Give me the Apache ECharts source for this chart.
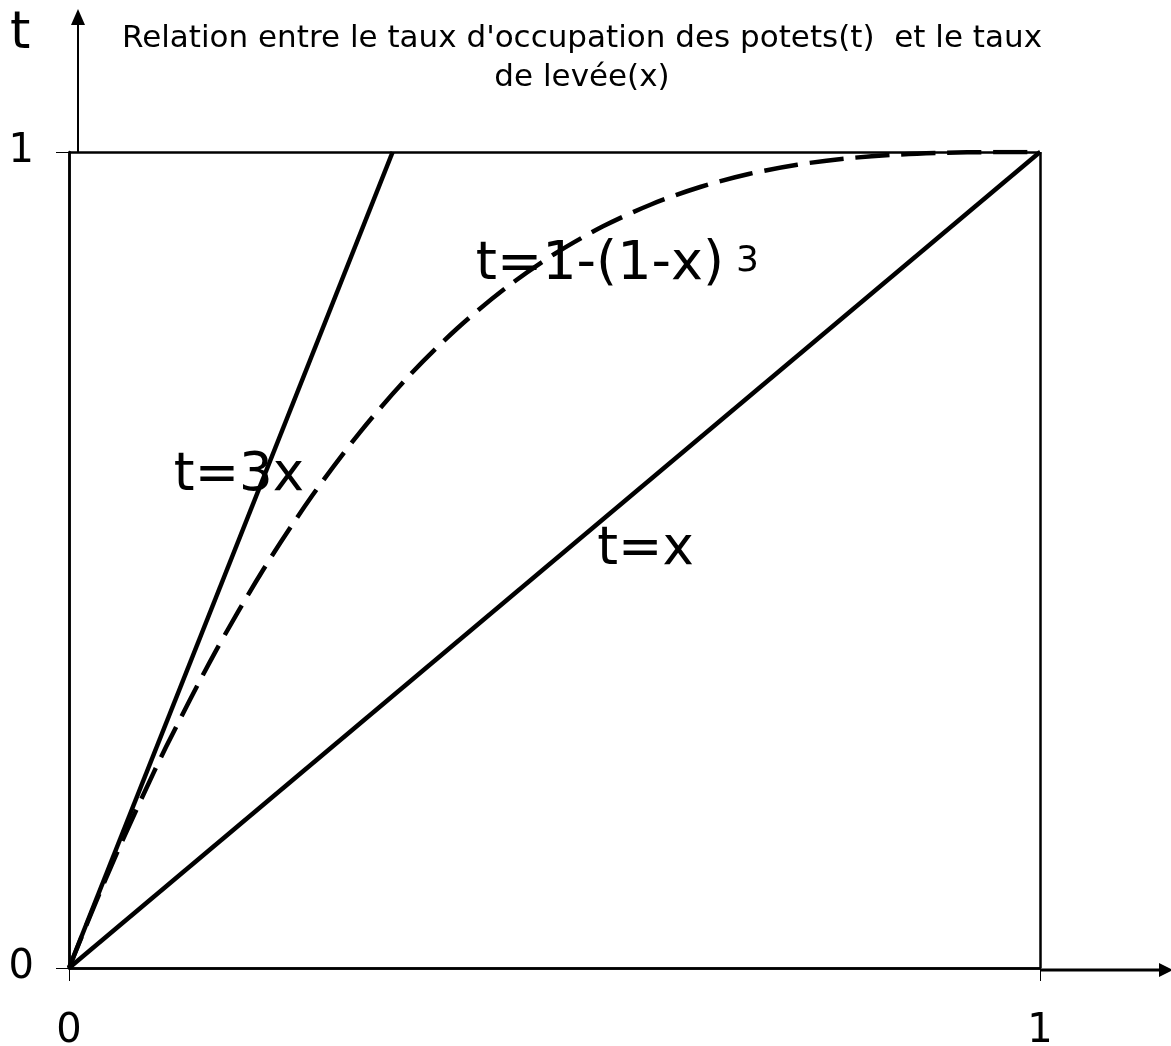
<!DOCTYPE html>
<html>
<head>
<meta charset="utf-8">
<script src="https://cdn.jsdelivr.net/npm/echarts@6/dist/echarts.min.js"></script>
<style>
  html, body { margin: 0; padding: 0; background: #fff; }
  #chart { width: 1171px; height: 1046px; }
</style>
</head>
<body>
<div id="chart"></div>
<script>
// Axis ticks (x = taux de levée, t = taux d'occupation)
const xTicks = [0, 1];
const tTicks = [0, 1];

// t = x
const lineX = [0, 1];
const lineT = [0, 1];

// t = 3x (reaches t = 1 at x = 1/3)
const steepX = [0, 0.3333];
const steepT = [0, 1];

// t = 1 - (1 - x)^3
const curveX = [0, 0.025, 0.05, 0.075, 0.1, 0.15, 0.2, 0.25, 0.3, 0.35, 0.4, 0.45, 0.5,
                0.55, 0.6, 0.65, 0.7, 0.75, 0.8, 0.85, 0.9, 0.95, 1];
const curveT = [0, 0.0731, 0.1426, 0.2084, 0.271, 0.3859, 0.488, 0.5781, 0.657, 0.7254, 0.784, 0.8336, 0.875,
                0.9089, 0.936, 0.9571, 0.973, 0.9844, 0.992, 0.9966, 0.999, 0.9999, 1];

const titleText = "Relation entre le taux d'occupation des potets(t)  et le taux\nde levée(x)";

const pairs = (xs, ys) => xs.map((x, i) => [x, ys[i]]);

const FONT = 'DejaVu Sans';
const chart = echarts.init(document.getElementById('chart'), null, { renderer: 'canvas' });

const option = {
  backgroundColor: '#ffffff',
  animation: false,
  title: {
    text: titleText,
    left: 577,
    top: 14,
    textAlign: 'center',
    textStyle: {
      fontFamily: FONT,
      fontWeight: 'normal',
      fontSize: 31,
      lineHeight: 39,
      color: '#000'
    }
  },
  grid: { left: 69, right: 131, top: 152, bottom: 78, containLabel: false, outerBoundsMode: 'none' },
  xAxis: {
    type: 'value', min: xTicks[0], max: xTicks[1], interval: 1,
    axisLine: { show: true, lineStyle: { color: '#000', width: 2.5 } },
    axisTick: { show: true, length: 13, lineStyle: { color: '#000', width: 1 } },
    axisLabel: { margin: 44, fontFamily: FONT, fontSize: 40, color: '#000' },
    splitLine: { show: true, lineStyle: { color: '#000', width: 2.5 } }
  },
  yAxis: {
    type: 'value', min: tTicks[0], max: tTicks[1], interval: 1,
    axisLine: { show: true, lineStyle: { color: '#000', width: 2.5 } },
    axisTick: { show: true, length: 13, lineStyle: { color: '#000', width: 1 } },
    axisLabel: { margin: 35, fontFamily: FONT, fontSize: 40, color: '#000', padding: [8, 0, 0, 0] },
    splitLine: { show: true, lineStyle: { color: '#000', width: 2.5 } }
  },
  series: [
    {
      name: 't=x', type: 'line', data: pairs(lineX, lineT), symbol: 'none',
      lineStyle: { color: '#000', width: 4.5 }, z: 3
    },
    {
      name: 't=3x', type: 'line', data: pairs(steepX, steepT), symbol: 'none',
      lineStyle: { color: '#000', width: 4.5 }, z: 3
    },
    {
      name: 't=1-(1-x)^3', type: 'line', data: pairs(curveX, curveT), symbol: 'none',
      smooth: 0.3,
      lineStyle: { color: '#000', width: 4.5, type: [34, 12], cap: 'butt', join: 'round' }, z: 4
    }
  ]
};
chart.setOption(option);

// Arrows, axis name and curve labels, placed from data coordinates
const px = (x, t) => chart.convertToPixel({ gridIndex: 0 }, [x, t]);
const o = px(0, 0), top1 = px(0, 1), right1 = px(1, 0);
const W = chart.getWidth();

const lbl = (text, x, t, size) => {
  const p = px(x, t);
  return {
    type: 'text', x: p[0], y: p[1], z: 10,
    style: { text, fontFamily: FONT, fontSize: size, fill: '#000',
             align: 'left', verticalAlign: 'middle' }
  };
};

chart.setOption({
  graphic: [
    // vertical axis arrow (t)
    { type: 'line', z: 5, shape: { x1: o[0] + 9, y1: top1[1], x2: o[0] + 9, y2: 22 },
      style: { stroke: '#000', lineWidth: 2 } },
    { type: 'polygon', z: 5, shape: { points: [[o[0] + 9, 9], [o[0] + 2, 25], [o[0] + 16, 25]] },
      style: { fill: '#000' } },
    // horizontal axis arrow (x)
    { type: 'line', z: 5, shape: { x1: right1[0], y1: o[1] + 2, x2: W - 8, y2: o[1] + 2 },
      style: { stroke: '#000', lineWidth: 3 } },
    { type: 'polygon', z: 5, shape: { points: [[W + 2, o[1] + 2], [W - 12, o[1] - 5], [W - 12, o[1] + 9]] },
      style: { fill: '#000' } },
    // axis name
    { type: 'text', x: 10, y: 34, z: 10,
      style: { text: 't', fontFamily: FONT, fontSize: 52, fill: '#000', align: 'left', verticalAlign: 'middle' } },
    // curve labels
    lbl('t=1-(1-x)', 0.419, 0.862, 54),
    lbl('3', 0.687, 0.866, 36),
    lbl('t=3x', 0.108, 0.603, 53),
    lbl('t=x', 0.544, 0.512, 53)
  ]
});
</script>
</body>
</html>
